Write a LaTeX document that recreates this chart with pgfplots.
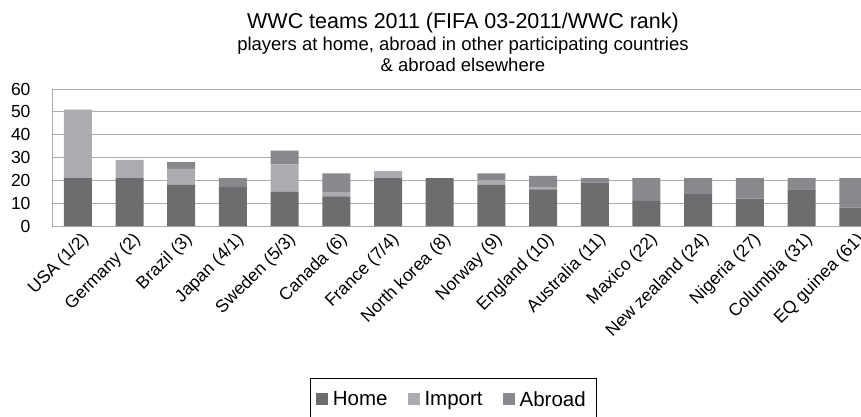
\documentclass[border=0pt]{standalone}
\usepackage{fontspec}
\setmainfont{Liberation Sans}
\usepackage{pgfplots}
\usepackage{pgfplotstable}
\pgfplotsset{compat=1.18}
\definecolor{home}{HTML}{6D6D6F}
\definecolor{import}{HTML}{ABACAF}
\definecolor{abroad}{HTML}{88898C}
\definecolor{gridc}{HTML}{ABABAB}

\pgfplotstableread{
x home import abroad
0 21 30 0
1 21 8 0
2 18 7 3
3 17 0 4
4 15 12 6
5 13 2 8
6 21 3 0
7 21 0 0
8 18 2 3
9 16 1 5
10 19 0 2
11 11 0 10
12 14 0 7
13 12 0 9
14 16 0 5
15 8 0 13
}\datatable

\begin{document}
\begin{tikzpicture}[x=1pt,y=1pt]
\path[use as bounding box] (-52,-190) rectangle (809,226);
\begin{axis}[
  at={(0,0)}, anchor=south west,
  scale only axis, width=809pt, height=137pt,
  ybar stacked, bar width=28pt,
  xmin=-0.5, xmax=15.15, ymin=0, ymax=60,
  ytick={0,10,...,60},
  xtick={0,...,15},
  xticklabels={USA (1/2),Germany (2),Brazil (3),Japan (4/1),Sweden (5/3),Canada (6),France (7/4),North korea (8),Norway (9),England (10),Australia (11),Maxico (22),New zealand (24),Nigeria (27),Columbia (31),EQ guinea (61)},
  xticklabel style={rotate=45, anchor=north east, font=\fontsize{17.5}{17.5}\selectfont, inner sep=1pt, xshift=-1pt, yshift=-4.5pt},
  yticklabel style={font=\fontsize{17.5}{17.5}\selectfont, xshift=-18pt},
  /pgf/number format/assume math mode=true,
  ymajorgrids, grid style={gridc, line width=0.9pt},
  axis lines*=left, axis line style={gridc, line width=0.9pt, -},
  tick style={draw=none},
  clip=true,
  legend columns=3,
  legend style={at={(0.496,-1.109)}, anchor=north, draw=black, line width=0.6pt,
    font=\fontsize{20.5}{20.5}\selectfont, inner xsep=6pt, inner ysep=13pt,
    nodes={inner xsep=4.5pt, inner ysep=0pt},
    /tikz/every even column/.append style={column sep=16pt}},
]
\addplot[fill=home, draw=none, legend image code/.code={\fill[home] (0pt,-6pt) rectangle (12pt,6pt);}] table[x=x,y=home]{\datatable};
\addplot[fill=import, draw=none, legend image code/.code={\fill[import] (0pt,-6pt) rectangle (12pt,6pt);}] table[x=x,y=import]{\datatable};
\addplot[fill=abroad, draw=none, legend image code/.code={\fill[abroad] (0pt,-6pt) rectangle (12pt,6pt);}] table[x=x,y=abroad]{\datatable};
\legend{Home,Import,Abroad}
\end{axis}
\node[anchor=base, font=\fontsize{21.5}{21.5}\selectfont, inner sep=0] at (411,198) {WWC teams 2011 (FIFA 03-2011/WWC rank)};
\node[anchor=base, font=\fontsize{18.5}{18.5}\selectfont, inner sep=0] at (411,176) {players at home, abroad in other participating countries};
\node[anchor=base, font=\fontsize{18.5}{18.5}\selectfont, inner sep=0] at (411,155) {\& abroad elsewhere};
\end{tikzpicture}
\end{document}
